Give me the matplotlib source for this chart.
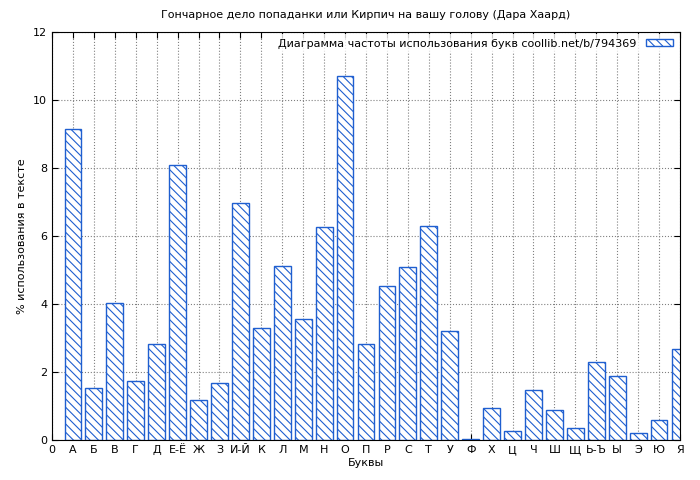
import matplotlib
matplotlib.use("Agg")
import matplotlib.pyplot as plt
import numpy as np

letters = ["А", "Б", "В", "Г", "Д", "Е-Ё", "Ж", "З", "И-Й", "К", "Л", "М", "Н", "О", "П",
           "Р", "С", "Т", "У", "Ф", "Х", "Ц", "Ч", "Ш", "Щ", "Ь-Ъ", "Ы", "Э", "Ю", "Я"]
values = [9.15, 1.52, 4.02, 1.75, 2.83, 8.1, 1.18, 1.67, 6.97, 3.28, 5.12, 3.55, 6.27, 10.72, 2.82,
          4.52, 5.08, 6.3, 3.22, 0.03, 0.93, 0.26, 1.48, 0.87, 0.35, 2.28, 1.88, 0.22, 0.58, 2.67]

plt.rcParams["font.size"] = 8
plt.rcParams["hatch.color"] = "#1f5fd0"
plt.rcParams["hatch.linewidth"] = 0.8

fig = plt.figure(figsize=(7, 4.8), dpi=100)
ax = fig.add_axes([52 / 700, 40 / 480, 628 / 700, 408 / 480])

pos = np.arange(1, len(letters) + 1)
ax.bar(pos, values, width=0.8, facecolor="white", edgecolor="#1f5fd0", hatch="\\\\\\\\",
       linewidth=1, label="Диаграмма частоты использования букв coollib.net/b/794369", zorder=2)

ax.set_xlim(0, 30)
ax.set_ylim(0, 12)
ax.set_xticks(np.arange(0, 31))
ax.set_xticklabels(["0"] + letters)
ax.set_yticks(np.arange(0, 13, 2))
ax.tick_params(direction="in", top=True, right=True, length=4)
ax.grid(True, linestyle=":", color="gray", linewidth=0.8, zorder=0)
ax.set_axisbelow(True)
ax.set_xlabel("Буквы", labelpad=2)
ax.set_ylabel("% использования в тексте")
ax.set_title("Гончарное дело попаданки или Кирпич на вашу голову (Дара Хаард)", fontsize=8, pad=10)
leg = ax.legend(loc="upper right", frameon=True, fancybox=False, edgecolor="none",
                handlelength=2.5, handleheight=0.6, borderaxespad=0.2, markerfirst=False)
for t in leg.get_texts():
    t.set_ha("right")

fig.savefig("out.png", dpi=100)
